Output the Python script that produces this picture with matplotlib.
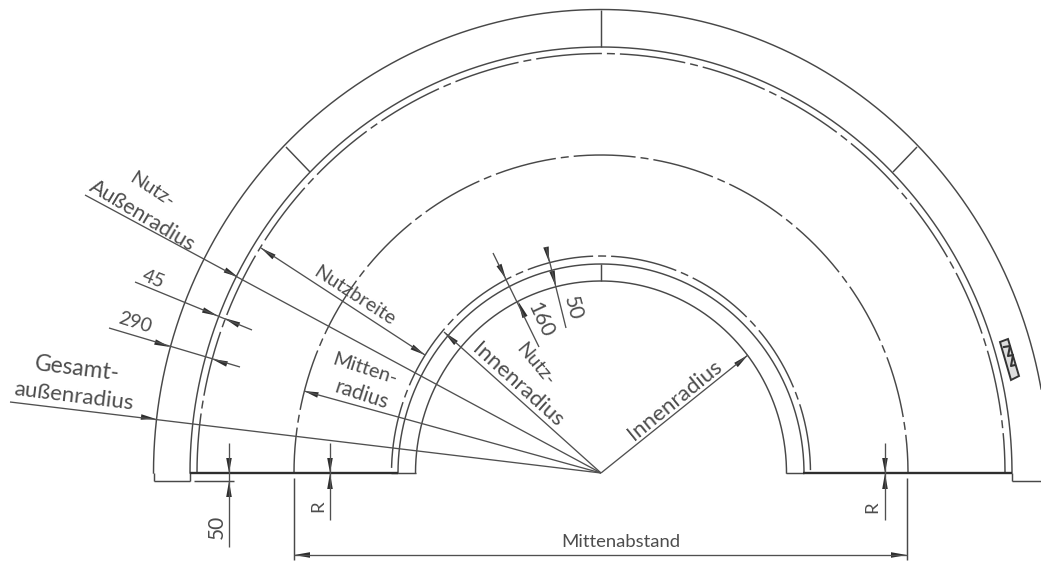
import numpy as np
import matplotlib.pyplot as plt

plt.rcParams['font.family'] = ['Lato', 'DejaVu Sans']

# drawing geometry (pixel units)
centre = (601, 473)
solid_rx = [447.5, 411, 203, 185.5]
solid_ry = [463.5, 426, 209, 192]
chain_rx = [404, 307, 209.5]
chain_ry = [419.5, 318, 217]
chain_dot_x = [527, 565, 602]
chain_period = [84, 80, 85]

# x0, y0, x1, y1
plain_lines = [
    (153.5, 473, 153.5, 481), (153.5, 481, 190, 481), (190, 473, 190, 481),
    (1012, 473, 1012, 481), (1012, 481, 1041, 481),
    (391, 473, 416, 473), (786, 473, 804, 473),
    (601, 9.5, 601, 47), (286, 147, 310, 172), (917, 147, 893, 172), (601, 264, 601, 281),
    (194, 481, 234, 481),
    (294, 478, 294, 560), (907, 478, 907, 560),
]
thick_lines = [(190, 473, 392, 473), (392, 473, 398, 473), (803, 473, 1012, 473)]
dim_lines = [
    (10, 402, 601, 473), (85, 195, 601, 473), (304, 391, 601, 473),
    (444, 332, 601, 473), (748, 355, 601, 473), (261, 248, 425, 355),
    (135, 282, 252, 330), (109, 328, 240, 367), (493, 253, 539, 347), (546, 247, 566, 328),
    (229, 443, 229, 547), (330, 443, 330, 520), (885, 443, 885, 520), (294, 555, 907, 555),
]
# tip x, tip y, base x, base y
arrows = [
    (156, 419, 141, 417), (238, 277, 225, 270), (304, 391, 318, 395), (444, 332, 456, 343),
    (748, 355, 736, 365), (261, 248, 274, 257), (425, 355, 412, 347),
    (218, 316, 203, 310), (224, 318, 239, 325), (170, 347, 155, 342), (212, 359, 227, 364),
    (506, 279, 499, 265), (518, 301, 525, 317), (549, 262, 546, 247), (556, 287, 552, 271),
    (229, 473, 229, 458), (229, 481, 229, 497), (330, 473, 330, 458), (330, 473, 330, 489),
    (885, 473, 885, 458), (885, 473, 885, 489), (294, 555, 310, 555), (907, 555, 891, 555),
]
# text, x, y, rotation, size
labels = [
    ('Nutz-', 152, 190, -33, 14.3), ('Außenradius', 142, 216, -31, 15.5),
    ('45', 153, 279, -22, 14), ('290', 135, 323, -17, 14),
    ('Gesamt-', 77, 369, -7, 16.5), ('außenradius', 74, 396, -7, 16),
    ('Nutzbreite', 354, 296, -33, 14.3),
    ('Mitten-', 365, 369, -18, 14.5), ('radius', 362, 395, -18, 15),
    ('Nutz-', 535, 364, -50, 14.3), ('Innenradius', 518, 385, -42, 16),
    ('160', 540, 320, -65, 15), ('50', 573, 308, -75, 15),
    ('Innenradius', 675, 400, 39, 16),
    ('50', 217, 527, 90, 15), ('R', 318, 506, 90, 13.3), ('R', 872, 507, 90, 13.3),
    ('Mittenabstand', 621, 542, 0, 13.3),
]

line_col = '#484848'
text_col = '#4d4d4d'
LW = 1.05
px = 0.72  # points per pixel at dpi 100


def arc_xy(rx, ry):
    t = np.linspace(np.pi, 0, 1500)
    return centre[0] + rx * np.cos(t), centre[1] - ry * np.sin(t)


fig = plt.figure(figsize=(10.41, 5.63), dpi=100)
ax = fig.add_axes([0, 0, 1, 1])
ax.set_xlim(0, 1041)
ax.set_ylim(563, 0)
ax.axis('off')

for rx, ry in zip(solid_rx, solid_ry):
    ax.plot(*arc_xy(rx, ry), color=line_col, lw=LW)

# chain lines: long dash, gap, dot, gap
for rx, ry, dot_x, period in zip(chain_rx, chain_ry, chain_dot_x, chain_period):
    x, y = arc_xy(rx, ry)
    s = np.concatenate([[0], np.cumsum(np.hypot(np.diff(x), np.diff(y)))])
    s_dot = s[np.argmin(np.abs(x - dot_x))]
    gap, dot = 5, 8
    dash = period - 2 * gap - dot
    off = (dash + gap + dot / 2 - s_dot) % period
    pattern = np.array([dash, gap, dot, gap]) * px / LW
    ax.plot(x, y, color=line_col, lw=LW, dash_capstyle='butt',
            linestyle=(off * px / LW, tuple(pattern)))

for x0, y0, x1, y1 in plain_lines:
    ax.plot([x0, x1], [y0, y1], color=line_col, lw=LW, solid_capstyle='butt')
for x0, y0, x1, y1 in thick_lines:
    ax.plot([x0, x1], [y0, y1], color='#2e2e2e', lw=1.7, solid_capstyle='butt')
for x0, y0, x1, y1 in dim_lines:
    ax.plot([x0, x1], [y0, y1], color='#505050', lw=0.95, solid_capstyle='butt')

for tx, ty, bx, by in arrows:
    d = np.array([bx - tx, by - ty], dtype=float)
    n = np.array([-d[1], d[0]]) / np.hypot(*d) * 2.8
    ax.fill([tx, bx + n[0], bx - n[0]], [ty, by + n[1], by - n[1]], color='#2e2e2e', lw=0)

for txt, x, y, rot, size in labels:
    ax.text(x, y, txt, rotation=rot, rotation_mode='anchor', ha='center', va='center',
            fontsize=size, color=text_col)

# the little part on the outer ring at the right
ax.fill([1000, 1008, 1019, 1011], [342, 339, 376, 380], facecolor='#dddddd', edgecolor='#333333', lw=1.4)
ax.plot([1004, 1010, 1008, 1013, 1011, 1015], [347, 346, 356, 355, 366, 365], color='#333333', lw=1.5)

fig.savefig('out.png', dpi=100)
